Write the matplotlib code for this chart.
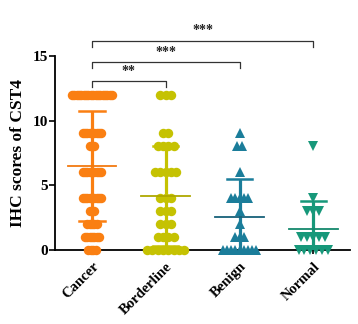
import numpy as np
import matplotlib
matplotlib.use("Agg")
import matplotlib.pyplot as plt

plt.rcParams['font.family'] = ['Liberation Serif', 'DejaVu Serif']
plt.rcParams['font.weight'] = 'bold'

groups = ['Cancer', 'Borderline', 'Benign', 'Normal']

# score levels and how many samples sit on each level
cancer_vals = [12, 9, 8, 6, 4, 3, 2, 1, 0]
cancer_counts = [18, 9, 3, 9, 9, 3, 5, 7, 4]
borderline_vals = [12, 9, 8, 6, 4, 3, 2, 1, 0]
borderline_counts = [3, 2, 4, 5, 3, 3, 3, 4, 8]
benign_vals = [9, 8, 6, 4, 3, 2, 1, 0]
benign_counts = [1, 2, 1, 5, 1, 1, 3, 9]
normal_vals = [8, 4, 3, 1, 0]
normal_counts = [1, 1, 3, 5, 6]

# significance brackets: (group a, group b, label)
comparisons = [(0, 1, '**'), (0, 2, '***'), (0, 3, '***')]

colors = ['#FA7F12', '#C5C202', '#1B7D9A', '#17987A']
mean_colors = ['#F27A10', '#AFA800', '#17617A', '#14886C']
markers = ['o', 'o', '^', 'v']
msizes = [6.8, 6.8, 7.6, 7.2]
spacing = [0.032, 0.072, 0.055, 0.08]

data = [(cancer_vals, cancer_counts), (borderline_vals, borderline_counts),
        (benign_vals, benign_counts), (normal_vals, normal_counts)]

fig = plt.figure(figsize=(3.58, 3.24), dpi=100)
ax = fig.add_axes([0.154, 0.228, 0.824, 0.6])

for i, (vals, counts) in enumerate(data):
    scores = np.repeat(vals, counts)
    for v, n in zip(vals, counts):
        xs = i + (np.arange(n) - (n - 1) / 2) * spacing[i]
        ax.plot(xs, [v] * n, linestyle='none', marker=markers[i],
                markersize=msizes[i], color=colors[i], markeredgewidth=0,
                clip_on=False, zorder=3)
    m = scores.mean()
    sd = scores.std(ddof=1)
    ax.plot([i, i], [m - sd, m + sd], color=colors[i], lw=2.3, zorder=4,
            solid_capstyle='butt')
    for y in (m - sd, m + sd):
        ax.plot([i - 0.17, i + 0.17], [y, y], color=colors[i], lw=1.8, zorder=4)
    ax.plot([i - 0.33, i + 0.33], [m, m], color=mean_colors[i], lw=1.3, zorder=5)

# brackets
levels = [13.05, 14.52, 16.17]
for (a, b, lab), y in zip(comparisons, levels):
    ax.plot([a, a, b, b], [y - 0.5, y, y, y - 0.5], color='#333333', lw=0.9,
            clip_on=False)
    ax.text((a + b) / 2, y + 0.25, lab, ha='center', va='bottom',
            fontsize=10, color='#222222')

ax.set_xlim(-0.5, 3.5)
ax.set_ylim(0, 15)
ax.set_yticks([0, 5, 10, 15])
ax.set_xticks(range(4))
ax.set_xticklabels(groups, rotation=45, ha='right', va='top',
                   rotation_mode='anchor', fontsize=10.5, fontweight='bold')
ax.tick_params(axis='y', labelsize=11, width=1.2, length=4, pad=1)
ax.tick_params(axis='x', width=1.2, length=3, pad=4)
ax.set_ylabel('IHC scores of CST4', fontsize=12.5, fontweight='bold', labelpad=5)

for s in ['top', 'right']:
    ax.spines[s].set_visible(False)
for s in ['left', 'bottom']:
    ax.spines[s].set_linewidth(1.3)

fig.savefig('out.png', dpi=100)
